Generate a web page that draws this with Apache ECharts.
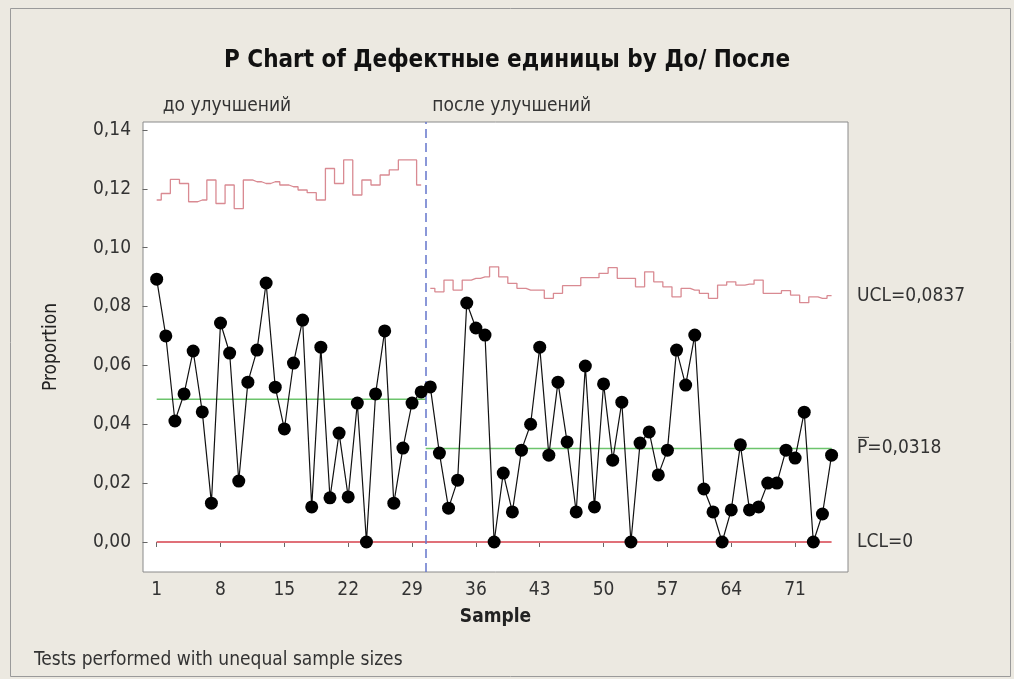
<!DOCTYPE html>
<html>
<head>
<meta charset="utf-8">
<script src="https://cdn.jsdelivr.net/npm/echarts@6/dist/echarts.min.js"></script>
<style>
  html, body { margin: 0; padding: 0; background: #ECE9E1; }
  #main { width: 1014px; height: 679px; }
</style>
</head>
<body>
<div id="main"></div>
<script>
// доли дефектных единиц по выборкам (1..30 до улучшений, 31..75 после)
var proportion = [
  0.0893, 0.0700, 0.0411, 0.0503, 0.0649, 0.0442, 0.0132, 0.0744, 0.0642, 0.0207,
  0.0543, 0.0652, 0.0880, 0.0526, 0.0384, 0.0608, 0.0754, 0.0119, 0.0662, 0.0150,
  0.0370, 0.0153, 0.0472, 0.0000, 0.0503, 0.0717, 0.0132, 0.0319, 0.0472, 0.0510,
  0.0527, 0.0302, 0.0115, 0.0210, 0.0812, 0.0727, 0.0703, 0.0000, 0.0234, 0.0102,
  0.0312, 0.0400, 0.0662, 0.0295, 0.0543, 0.0340, 0.0102, 0.0598, 0.0119, 0.0537,
  0.0278, 0.0475, 0.0000, 0.0336, 0.0374, 0.0228, 0.0312, 0.0652, 0.0533, 0.0703,
  0.0180, 0.0102, 0.0000, 0.0109, 0.0330, 0.0109, 0.0119, 0.0200, 0.0200, 0.0312,
  0.0285, 0.0441, 0.0000, 0.0095, 0.0295
];
// верхняя контрольная граница (переменная, т.к. объёмы выборок разные)
var ucl = [
  0.1162, 0.1184, 0.1232, 0.1218, 0.1156, 0.1162, 0.1230, 0.1150, 0.1213, 0.1133,
  0.1230, 0.1224, 0.1218, 0.1224, 0.1213, 0.1207, 0.1196, 0.1187, 0.1162, 0.1269,
  0.1218, 0.1298, 0.1179, 0.1230, 0.1213, 0.1247, 0.1264, 0.1298, 0.1298, 0.1213,
  0.0862, 0.0850, 0.0890, 0.0856, 0.0890, 0.0896, 0.0901, 0.0935, 0.0901, 0.0879,
  0.0862, 0.0856, 0.0856, 0.0828, 0.0845, 0.0871, 0.0871, 0.0898, 0.0898, 0.0913,
  0.0932, 0.0896, 0.0896, 0.0867, 0.0918, 0.0884, 0.0867, 0.0833, 0.0862, 0.0856,
  0.0845, 0.0828, 0.0873, 0.0884, 0.0873, 0.0876, 0.0890, 0.0845, 0.0845, 0.0854,
  0.0839, 0.0813, 0.0833, 0.0828, 0.0837
];
var stageNames = ['до улучшений', 'после улучшений'];
var stageCenter = [0.0485, 0.0318];
var stageSize = 30; // выборок на этапе "до"
var lcl = 0;
var xTicks = [1, 8, 15, 22, 29, 36, 43, 50, 57, 64, 71];
var yTicks = [0, 0.02, 0.04, 0.06, 0.08, 0.10, 0.12, 0.14];

var FONT = "'DejaVu Sans Condensed', 'Liberation Sans Narrow', sans-serif";
var n = proportion.length;
var split = stageSize + 0.5;

var pointData = proportion.map(function (v, i) { return [i + 1, v]; });
var ucl1 = ucl.slice(0, stageSize).map(function (v, i) { return [i + 1, v]; });
var ucl2 = ucl.slice(stageSize).map(function (v, i) { return [i + 1 + stageSize, v]; });
var cl1 = [[1, stageCenter[0]], [split, stageCenter[0]]];
var cl2 = [[split, stageCenter[1]], [n, stageCenter[1]]];
var lclData = [[1, lcl], [n, lcl]];

function comma(v, d) { return v.toFixed(d).replace('.', ','); }

var chart = echarts.init(document.getElementById('main'));

var option = {
  backgroundColor: '#ECE9E1',
  animation: false,
  title: {
    text: 'P Chart of Дефектные единицы by До/ После',
    left: 'center',
    top: 44,
    textStyle: { fontFamily: FONT, fontSize: 24, fontWeight: 'bold', color: '#111' }
  },
  grid: {
    left: 143, top: 122, width: 705, height: 450,
    show: true, backgroundColor: '#fff', borderColor: '#8a8a8a', borderWidth: 1
  },
  xAxis: {
    type: 'value',
    min: -0.5, max: 76.8,
    name: 'Sample', nameLocation: 'middle', nameGap: 36,
    nameTextStyle: { fontFamily: FONT, fontSize: 19, fontWeight: 'bold', color: '#222' },
    axisLine: { show: false },
    splitLine: { show: false },
    axisTick: { show: true, customValues: xTicks, length: 5, lineStyle: { color: '#666' } },
    axisLabel: {
      customValues: xTicks, margin: 9,
      fontFamily: FONT, fontSize: 19, color: '#333'
    }
  },
  yAxis: {
    type: 'value',
    min: -0.0102, max: 0.1427,
    name: 'Proportion', nameLocation: 'middle', nameGap: 82, nameRotate: 90,
    nameTextStyle: { fontFamily: FONT, fontSize: 19, color: '#222' },
    axisLine: { show: false },
    splitLine: { show: false },
    axisTick: { show: true, customValues: yTicks, length: 5, lineStyle: { color: '#666' } },
    axisLabel: {
      customValues: yTicks, margin: 12,
      fontFamily: FONT, fontSize: 19, color: '#333',
      formatter: function (v) { return comma(v, 2); }
    }
  },
  series: [
    {
      type: 'line', data: ucl1, step: 'middle', symbol: 'none',
      lineStyle: { color: '#D98A92', width: 1.3 }, z: 2
    },
    {
      type: 'line', data: ucl2, step: 'middle', symbol: 'none',
      lineStyle: { color: '#D98A92', width: 1.3 }, z: 2
    },
    {
      type: 'line', data: cl1, symbol: 'none',
      lineStyle: { color: '#6CC46C', width: 1.5 }, z: 2
    },
    {
      type: 'line', data: cl2, symbol: 'none',
      lineStyle: { color: '#6CC46C', width: 1.5 }, z: 2
    },
    {
      type: 'line', data: lclData, symbol: 'none',
      lineStyle: { color: '#E07078', width: 2 }, z: 2,
      markLine: {
        silent: true, symbol: 'none', animation: false,
        label: { show: false },
        lineStyle: { color: '#6475CC', type: [9, 5], width: 1.5 },
        data: [{ xAxis: split }]
      }
    },
    {
      type: 'line', data: pointData,
      symbol: 'circle', symbolSize: 13,
      itemStyle: { color: '#000' },
      lineStyle: { color: '#111', width: 1.2 }, z: 5
    }
  ]
};
chart.setOption(option);

// подписи справа и названия этапов
var ucLast = ucl[n - 1];
var px = function (x, y) { return chart.convertToPixel({ gridIndex: 0 }, [x, y]); };
var rightX = 143 + 705 + 9;
var txt = { fontFamily: FONT, fontSize: 19, fill: '#333' };
function label(x, y, text, extra) {
  return {
    type: 'text', x: x, y: y,
    style: Object.assign({ text: text, textVerticalAlign: 'middle' }, txt, extra || {})
  };
}
var s1 = px(1, 0), s2 = px(stageSize + 1, 0);
chart.setOption({
  graphic: [
    label(rightX, px(n, ucLast)[1], 'UCL=' + comma(ucLast, 4)),
    label(rightX, px(n, stageCenter[1])[1], 'P=' + comma(stageCenter[1], 4)),
    {
      type: 'line', shape: { x1: rightX + 1, y1: px(n, stageCenter[1])[1] - 11, x2: rightX + 12, y2: px(n, stageCenter[1])[1] - 11 },
      style: { stroke: '#333', lineWidth: 1 }
    },
    label(rightX, px(n, lcl)[1], 'LCL=0'),
    label(s1[0] + 6, 106, stageNames[0]),
    label(s2[0] + 2, 106, stageNames[1]),
    label(34, 660, 'Tests performed with unequal sample sizes'),
    {
      type: 'rect', shape: { x: 10.5, y: 8.5, width: 1000, height: 668 },
      style: { fill: 'none', stroke: '#9a9a9a', lineWidth: 1 }, silent: true
    }
  ]
});
</script>
</body>
</html>
